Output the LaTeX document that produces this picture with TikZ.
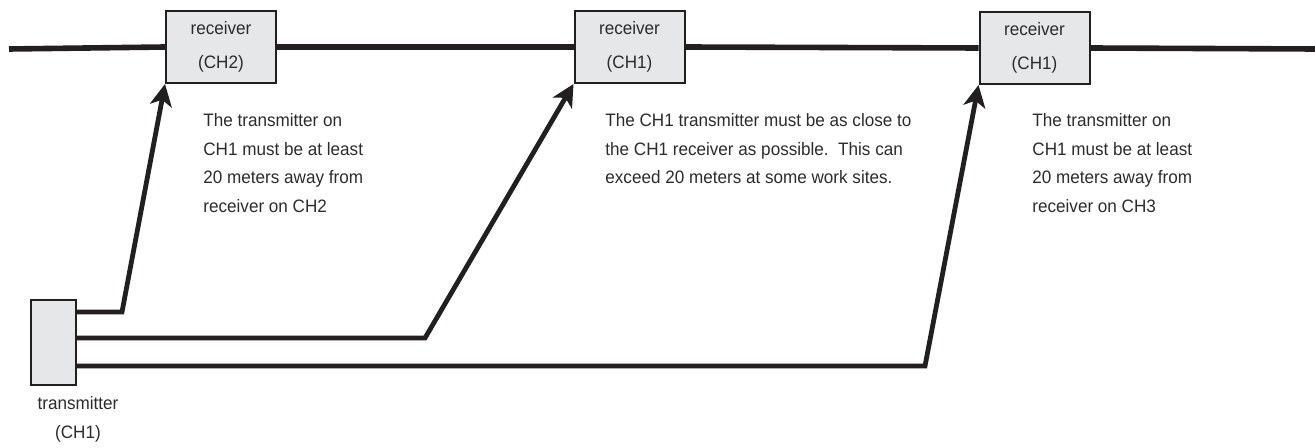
\documentclass[tikz,border=0pt]{standalone}
\usepackage{fontspec}
\setmainfont{Liberation Sans}[FakeStretch=0.95]
\usepackage{tikz}
\usetikzlibrary{arrows.meta}
\definecolor{boxgray}{HTML}{E6E7E8}
\definecolor{inkgray}{HTML}{2B2B2B}
\definecolor{lineblack}{HTML}{231F20}
\tikzset{x=0.5pt,y=-0.5pt,
  unit/.style={draw=lineblack,line width=1pt,fill=boxgray,inner sep=0pt,
    text=inkgray,align=center,font=\fontsize{9}{17}\selectfont},
  rxbox/.style={unit,minimum width=55pt,minimum height=36pt},
  note/.style={anchor=north west,inner sep=0pt,align=left,text=inkgray,
    font=\fontsize{9}{14.3}\selectfont},
  wire/.style={draw=lineblack,line width=2.8pt},
  feed/.style={draw=lineblack,line width=2.4pt,line join=miter,
    -{Stealth[length=11pt,width=11pt,inset=3pt]}}}

\begin{document}
\begin{tikzpicture}
\useasboundingbox (0,0) rectangle (1315,448);
% receivers on the line
\node[rxbox] (rx1) at (221,47) {receiver\\(CH2)};
\node[rxbox] (rx2) at (629.5,47) {receiver\\(CH1)};
\node[rxbox] (rx3) at (1034.5,48) {receiver\\(CH1)};
\coordinate (lend) at (9,49);
\coordinate (rend) at (1315,49);
\draw[wire] (lend) -- (rx1.west);
\draw[wire] (rx1.east) -- (rx2.west);
\draw[wire] (rx2.east) -- (rx3.west);
\draw[wire] (rx3.east) -- (rend);
% transmitter
\node[unit,minimum width=22.5pt,minimum height=42.5pt] (tx) at (53.5,342.5) {};
\node[note,anchor=north,align=center] (txlab) at (78,396) {transmitter\\(CH1)};
\coordinate (b1) at (122,312);
\coordinate (b2) at (425,338);
\coordinate (b3) at (925,366);
\draw[feed] (tx.east |- b1) -- (b1) -- (rx1.south west);
\draw[feed] (tx.east |- b2) -- (b2) -- (rx2.south west);
\draw[feed] (tx.east |- b3) -- (b3) -- (rx3.south west);
% notes
\node[note] (n1) at (203,113) {The transmitter on\\CH1 must be at least\\20 meters away from\\receiver on CH2};
\node[note] (n2) at (605,113) {The CH1 transmitter must be as close to\\the CH1 receiver as possible.\ \ This can\\exceed 20 meters at some work sites.};
\node[note] (n3) at (1032,113) {The transmitter on\\CH1 must be at least\\20 meters away from\\receiver on CH3};
\end{tikzpicture}
\end{document}
